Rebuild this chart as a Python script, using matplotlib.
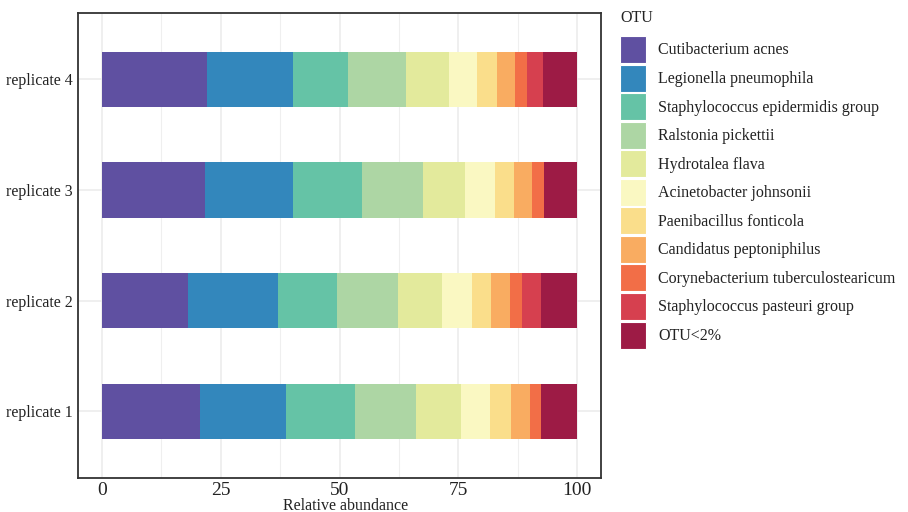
import matplotlib
matplotlib.use("Agg")
import matplotlib.pyplot as plt
from matplotlib.patches import Patch
import numpy as np

plt.rcParams['font.family'] = ['Liberation Serif', 'DejaVu Serif']

replicates = ["replicate 1", "replicate 2", "replicate 3", "replicate 4"]
otus = ["Cutibacterium acnes", "Legionella pneumophila", "Staphylococcus epidermidis group",
        "Ralstonia pickettii", "Hydrotalea flava", "Acinetobacter johnsonii",
        "Paenibacillus fonticola", "Candidatus peptoniphilus",
        "Corynebacterium tuberculostearicum", "Staphylococcus pasteuri group", "OTU<2%"]
colors = ["#5F50A1", "#3387BC", "#65C3A6", "#ADD6A4", "#E3EA9C", "#FAF8C2",
          "#FADE8B", "#F9AC61", "#F26E47", "#D6404F", "#9D1B45"]

rep1 = [20.6, 18.1, 14.6, 12.8, 9.5, 6.1, 4.4, 4.0, 2.3, 0.0, 7.6]
rep2 = [18.1, 18.9, 12.5, 12.8, 9.3, 6.3, 4.0, 4.0, 2.5, 4.0, 7.6]
rep3 = [21.7, 18.5, 14.5, 12.9, 8.8, 6.3, 4.0, 3.8, 2.5, 0.0, 7.0]
rep4 = [22.1, 18.1, 11.6, 12.2, 9.0, 5.9, 4.3, 3.7, 2.6, 3.3, 7.2]
x_ticks = [0, 25, 50, 75, 100]

data = np.array([rep1, rep2, rep3, rep4])

fig = plt.figure(figsize=(9.08, 5.12), dpi=100)
W, H = 908, 512
ax = fig.add_axes([78 / W, 1 - 477.7 / H, (601 - 78) / W, (477.7 - 13) / H])

ypos = np.arange(1, len(replicates) + 1)
left = np.zeros(len(replicates))
for j, otu in enumerate(otus):
    ax.barh(ypos, data[:, j], left=left, height=0.5, color=colors[j],
            edgecolor='none', linewidth=0, zorder=3, label=otu)
    left += data[:, j]

ax.set_xlim(-5, 105)
ax.set_ylim(0.4, 4.6)
ax.set_yticks(ypos)
ax.set_yticklabels(replicates, fontsize=11.5, color='#222222')
ax.set_xticks(x_ticks)
ax.set_xticklabels([str(t) for t in x_ticks], fontsize=14, color='#222222')
ax.set_xticks([12.5, 37.5, 62.5, 87.5], minor=True)
ax.tick_params(axis='both', which='both', length=0)
ax.tick_params(axis='y', pad=4)
ax.tick_params(axis='x', pad=3)
ax.grid(True, which='major', color='#EBEBEB', linewidth=1.1, zorder=0)
ax.grid(True, which='minor', axis='x', color='#EFEFEF', linewidth=0.8, zorder=0)
ax.set_axisbelow(True)
for s in ax.spines.values():
    s.set_color('#333333')
    s.set_linewidth(1.3)
ax.set_xlabel("Relative abundance", fontsize=11.5, color='#222222')
ax.xaxis.set_label_coords(0.512, -(498.5 - 477.7) / (477.7 - 13))
ax.xaxis.label.set_va('top')

fig.text(620 / W, 1 - 18 / H, "OTU", fontsize=11.5, color='#222222', ha='left', va='center')
handles = [Patch(facecolor=c, edgecolor='white', linewidth=0.8) for c in colors]
leg = fig.legend(handles, otus, loc='upper left', bbox_to_anchor=(620 / W, 1 - 36 / H),
                 frameon=False, fontsize=11.5,
                 handlelength=1.65, handleheight=2.22, labelspacing=0.1,
                 handletextpad=0.75, borderpad=0, borderaxespad=0)
for t in leg.get_texts():
    t.set_color('#222222')

fig.savefig("out.png", dpi=100)
